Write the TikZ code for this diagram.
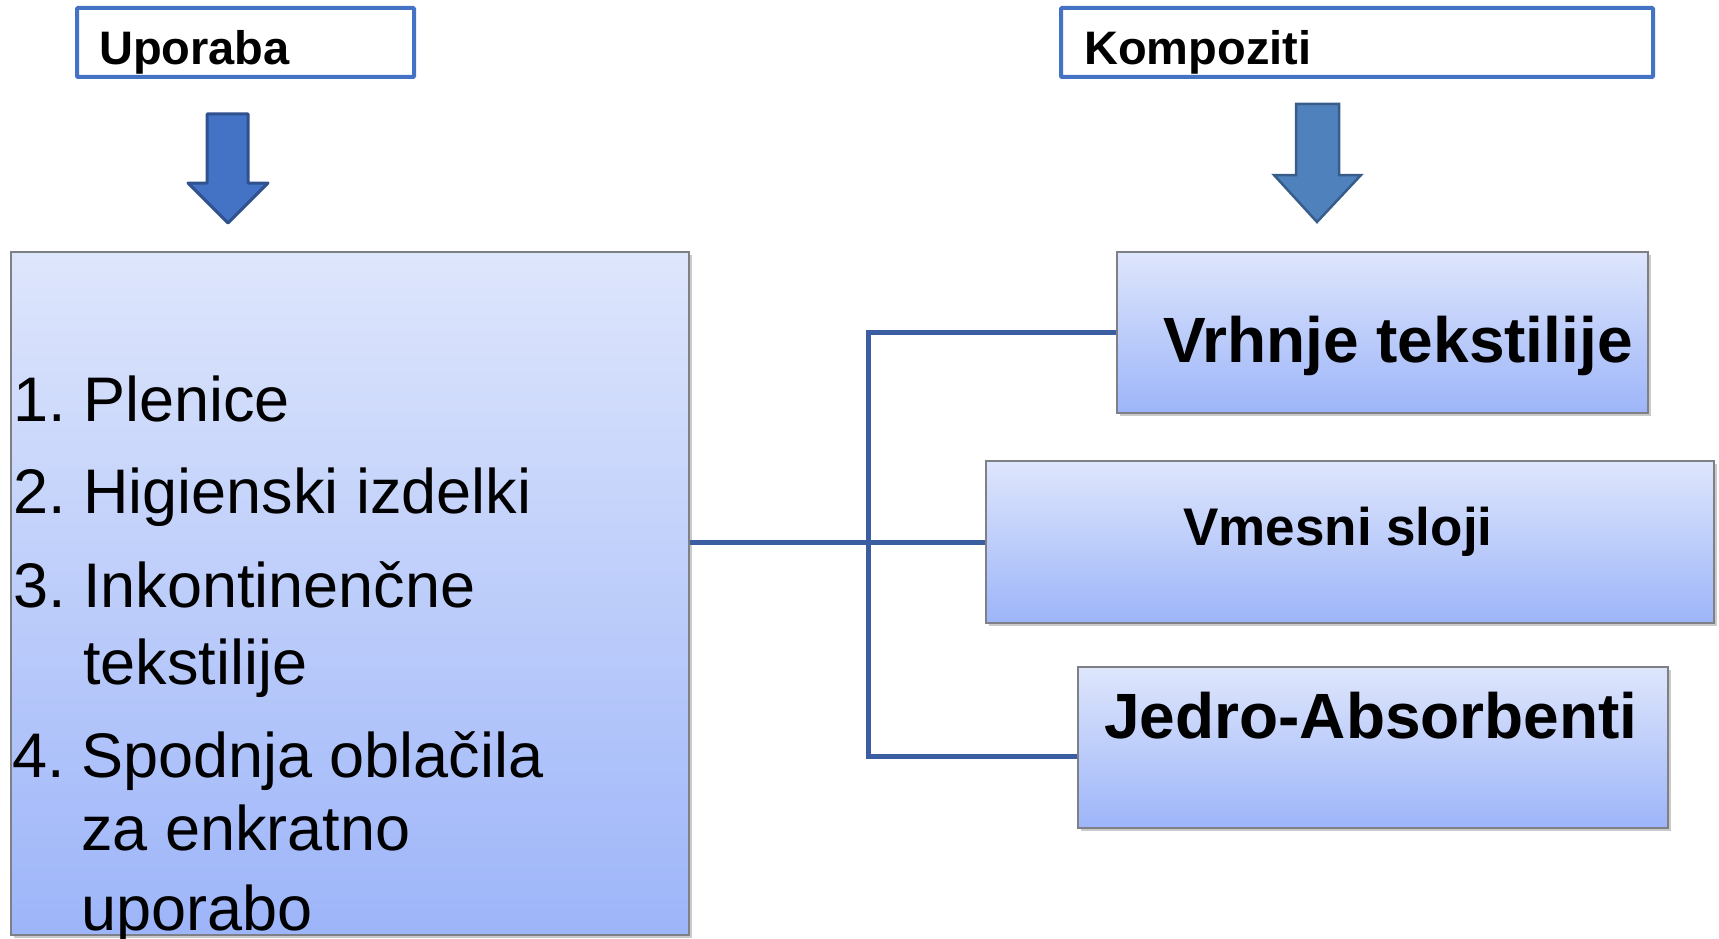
\documentclass[tikz,border=0pt]{standalone}
\usepackage{fontspec}
\setmainfont{Liberation Sans}
\usetikzlibrary{shadows}
\definecolor{hdrblue}{HTML}{4472C4}
\definecolor{arrAfill}{HTML}{4472C4}
\definecolor{arrAdraw}{HTML}{2F528F}
\definecolor{arrBfill}{HTML}{4F81BD}
\definecolor{arrBdraw}{HTML}{385D8A}
\definecolor{boxtop}{HTML}{DEE6FC}
\definecolor{boxbot}{HTML}{9DB5F9}
\definecolor{boxedge}{HTML}{7F7F86}
\definecolor{connblue}{HTML}{3B5EA3}
\tikzset{
  hdrbox/.style={draw=hdrblue, line width=4pt, fill=white, rounded corners=1pt, inner sep=0pt},
  gradbox/.style={draw=boxedge, line width=1.5pt, top color=boxtop, bottom color=boxbot, inner sep=0pt,
    drop shadow={shadow xshift=2.5pt, shadow yshift=-2.5pt, opacity=0.35, fill=black!60}},
  txt/.style={inner sep=0pt, anchor=base west},
  hdrtxt/.style={txt, font=\bfseries\fontsize{47}{56}\selectfont},
  listtxt/.style={txt, font=\fontsize{63}{75}\selectfont},
  bigtxt/.style={txt, font=\bfseries\fontsize{64}{76}\selectfont},
  midtxt/.style={txt, font=\bfseries\fontsize{53}{64}\selectfont},
  conn/.style={draw=connblue, line width=5pt, line join=miter},
  blockA/.style={fill=arrAfill, draw=arrAdraw, line width=3pt, line join=round},
  blockB/.style={fill=arrBfill, draw=arrBdraw, line width=2.5pt, line join=miter}
}
\begin{document}
\begin{tikzpicture}[x=1pt, y=-1pt]
\useasboundingbox (0,0) rectangle (1719,939);
% header boxes
\node[hdrbox, minimum width=337pt, minimum height=69pt] (upo) at (245.5,42.5) {};
\node[hdrtxt] (upot) at (99,65) {Uporaba};
\node[hdrbox, minimum width=592pt, minimum height=69pt] (kom) at (1357,42.5) {};
\node[hdrtxt] (komt) at (1084,65) {Kompoziti};
% block arrows
\draw[blockA] (207,114) -- (248,114) -- (248,183) -- (268,183) -- (228,223) -- (188,183) -- (207,183) -- cycle;
\draw[blockB] (1296,104) -- (1339,104) -- (1339,175) -- (1361,175) -- (1317,222) -- (1274,175) -- (1296,175) -- cycle;
% main boxes
\node[gradbox, minimum width=678pt, minimum height=683pt] (big) at (350,593.5) {};
\node[gradbox, minimum width=531pt, minimum height=161pt] (vr) at (1382.5,332.5) {};
\node[gradbox, minimum width=728pt, minimum height=162pt] (vm) at (1350,542) {};
\node[gradbox, minimum width=590pt, minimum height=161pt] (jd) at (1373,747.5) {};
% list text
\node[listtxt] (n1) at (13,421) {1.};
\node[listtxt] (l1) at (83,421) {Plenice};
\node[listtxt] (n2) at (13,513) {2.};
\node[listtxt] (l2) at (83,513) {Higienski izdelki};
\node[listtxt] (n3) at (13,607) {3.};
\node[listtxt] (l3a) at (83,607) {Inkontinenčne};
\node[listtxt] (l3b) at (83,684) {tekstilije};
\node[listtxt] (n4) at (12,777) {4.};
\node[listtxt] (l4a) at (81,777) {Spodnja oblačila};
\node[listtxt] (l4b) at (81,850) {za enkratno};
\node[listtxt] (l4c) at (81,930) {uporabo};
% right texts
\node[bigtxt] (vrt) at (1163,362) {Vrhnje tekstilije};
\node[midtxt] (vmt) at (1183,545) {Vmesni sloji};
\node[bigtxt] (jdt) at (1104,738) {Jedro-Absorbenti};
% connectors
\coordinate (bus) at (868,542);
\coordinate (jdw) at ([yshift=-8.5pt]jd.west);
\draw[conn] (big.east |- vm.west) -- (vm.west);
\draw[conn] (vr.west) -- (vr.west -| bus) -- (jdw -| bus) -- (jdw);
\end{tikzpicture}
\end{document}
